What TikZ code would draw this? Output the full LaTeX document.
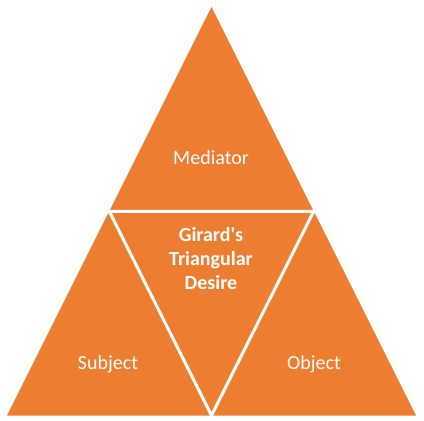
\documentclass[tikz,border=0pt]{standalone}
\usepackage{fontspec}
\setmainfont{Carlito}
\usetikzlibrary{positioning}
\definecolor{girardorange}{RGB}{237,125,49}

\begin{document}
\begin{tikzpicture}[
  x=1pt, y=-1pt,
  font=\fontsize{20}{24}\selectfont,
  tri/.style={fill=girardorange},
  gap/.style={draw=white, line width=3pt, line join=miter},
  lbl/.style={text=white, align=center, inner sep=0pt}
]
  \useasboundingbox (0,0) rectangle (424,421);

  % corners of the big triangle and the midpoints of its sides
  \coordinate (left)  at (7,415.5);
  \coordinate (right) at (416,415.5);
  \coordinate (top)   at (211.5,7);
  \coordinate (midl)  at (109.25,211.25);
  \coordinate (midr)  at (313.75,211.25);
  \coordinate (midb)  at (211.5,415.5);

  \fill[tri] (top) -- (midl) -- (midr) -- cycle;
  \fill[tri] (midl) -- (left) -- (midb) -- cycle;
  \fill[tri] (midr) -- (midb) -- (right) -- cycle;
  \fill[tri] (midl) -- (midr) -- (midb) -- cycle;
  \draw[gap] (midl) -- (midr) -- (midb) -- cycle;

  \node[lbl] (mediator) at (211,158) {Mediator};
  \node[lbl] (subject) at (108,364) {Subject};
  \node[lbl] (object) at (314,364) {Object};
  \node[lbl, font=\fontsize{20}{24}\selectfont\bfseries] (desire) at (211,259) {Girard\textquotesingle s\\Triangular\\Desire};
\end{tikzpicture}
\end{document}
